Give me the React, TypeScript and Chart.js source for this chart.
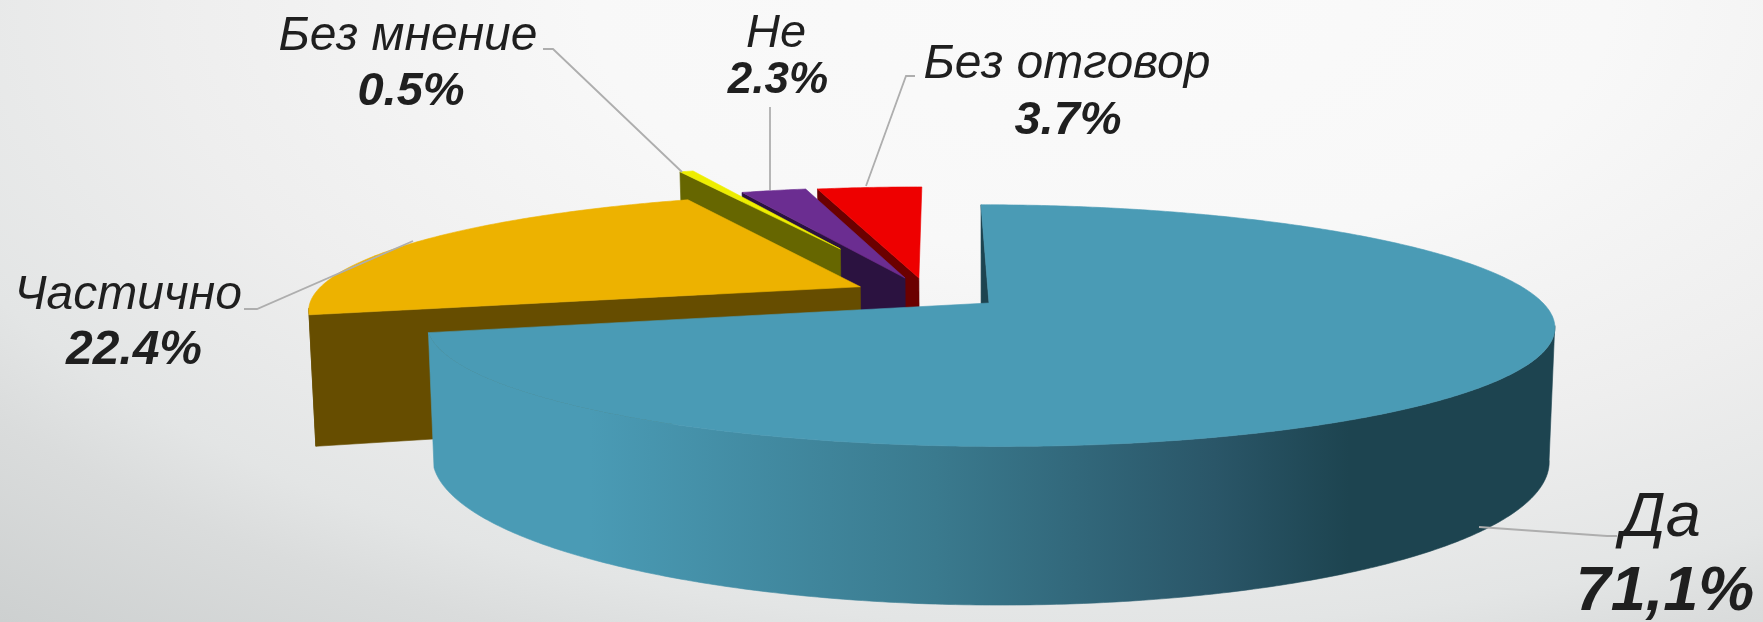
import React, { useEffect, useRef } from "react";
import { Chart, registerables } from "chart.js";

Chart.register(...registerables);

const categories = ["Да", "Частично", "Без мнение", "Не", "Без отговор"];
const values = [71.1, 22.4, 0.5, 2.3, 3.7];
const valueLabels = ["71,1%", "22.4%", "0.5%", "2.3%", "3.7%"];

const topColors = ["#4a9bb5", "#edb200", "#eeee00", "#6b2d91", "#ee0000"];
const wallColors = ["#1d4450", "#664d00", "#666600", "#2b1240", "#6b0000"];
const explodeU = [0, -0.236, -0.285, -0.154, -0.128];
const explodeV = [0, -0.143, -0.507, -0.223, -0.223];

const nameX = [1661, 128, 408, 776, 1067];
const valueX = [1665, 134, 411, 778, 1068];
const nameY = [536, 309, 50, 47, 78];
const valueY = [610, 364, 105, 93, 134];
const nameSize = [63, 48, 48, 47, 48];
const valueSize = [63, 48, 47, 44, 47];

const leaders = [
  [[1479, 527], [1607, 536], [1617, 536]],
  [[244, 309], [257, 309], [413, 241]],
  [[543, 49], [553, 49], [682, 172]],
  [[770, 107], [770, 190]],
  [[915, 76], [906, 76], [866, 186]],
];

const W = 1763, H = 622;
const OX = 989, OY = 303, RX = 554, RY = 116.6, SHEAR = 9.5, PERSP = 0.187, DEPTH = 129, NARROW = 0.99;

function project(u: number, v: number, low: boolean): [number, number] {
  const s = 1 / (1 - PERSP * v);
  const f = low ? NARROW : 1;
  return [OX + (RX * u + SHEAR * v) * s * f, OY + (RY * v + (low ? DEPTH : 0)) * s];
}

function poly(ctx: CanvasRenderingContext2D, pts: [number, number][], fill: any) {
  ctx.beginPath();
  pts.forEach((p, i) => (i ? ctx.lineTo(p[0], p[1]) : ctx.moveTo(p[0], p[1])));
  ctx.closePath();
  ctx.fillStyle = fill;
  ctx.strokeStyle = fill;
  ctx.lineWidth = 0.6;
  ctx.fill();
  ctx.stroke();
}

function rim(a0: number, a1: number, ou: number, ov: number, low: boolean) {
  const out: [number, number][] = [];
  const n = Math.max(2, Math.ceil(Math.abs(a1 - a0) / 0.01));
  for (let i = 0; i <= n; i++) {
    const t = a0 + ((a1 - a0) * i) / n;
    out.push(project(ou + Math.cos(t), ov + Math.sin(t), low));
  }
  return out;
}

const pie3d = {
  id: "pie3d",
  beforeDraw(chart: any) {
    const c = chart.ctx;
    c.save();
    c.translate(1100, 0);
    c.scale(1, 0.5);
    const g = c.createRadialGradient(0, 0, 0, 0, 0, 1700);
    g.addColorStop(0, "#fafafa");
    g.addColorStop(0.3, "#f8f8f8");
    g.addColorStop(0.55, "#eeeeee");
    g.addColorStop(0.737, "#e3e5e5");
    g.addColorStop(0.814, "#dadcdc");
    g.addColorStop(0.976, "#cdd0d0");
    g.addColorStop(1, "#cdd0d0");
    c.fillStyle = g;
    c.fillRect(-2000, -100, 4000, 2000);
    c.restore();
  },
  beforeDatasetDraw(chart: any, args: any) {
    const c: CanvasRenderingContext2D = chart.ctx;
    const arcs = args.meta.data;
    for (let i = arcs.length - 1; i >= 0; i--) {
      const { startAngle: a0, endAngle: a1 } = arcs[i];
      const ou = explodeU[i], ov = explodeV[i];
      const apexT = project(ou, ov, false), apexB = project(ou, ov, true);
      const topRim = rim(a0, a1, ou, ov, false);
      const botRim = rim(a0, a1, ou, ov, true);
      const wall = wallColors[i];
      // The leading radial wall is the only radial face turned to the viewer.
      poly(c, [apexT, topRim[0], botRim[0], apexB], wall);
      // Outer wall: only the front part of the rim, between its two side-most points.
      const turn = Math.asin(PERSP);
      const front0 = Math.max(a0, turn);
      const frontEnd = Math.min(a1, Math.PI - turn);
      if (frontEnd > front0) {
        let side: any = wall;
        if (i === 0) {
          const g = c.createLinearGradient(433, 0, 1550, 0);
          g.addColorStop(0, topColors[0]);
          g.addColorStop(0.14, topColors[0]);
          g.addColorStop(0.45, "#3a7a8e");
          g.addColorStop(0.7, "#2a5668");
          g.addColorStop(0.82, wall);
          g.addColorStop(1, wall);
          side = g;
        }
        const t = rim(front0, frontEnd, ou, ov, false);
        const b = rim(front0, frontEnd, ou, ov, true);
        poly(c, [...t, ...b.reverse()], side);
      }
      poly(c, [apexT, ...topRim], topColors[i]);
    }
    return false;
  },
  afterDatasetsDraw(chart: any) {
    const c: CanvasRenderingContext2D = chart.ctx;
    c.strokeStyle = "#aeaeae";
    c.lineWidth = 1.8;
    leaders.forEach((l) => {
      c.beginPath();
      l.forEach((p, i) => (i ? c.lineTo(p[0], p[1]) : c.moveTo(p[0], p[1])));
      c.stroke();
    });
    c.fillStyle = "#1f1f1f";
    c.textAlign = "center";
    c.textBaseline = "alphabetic";
    categories.forEach((name, i) => {
      c.font = `italic ${nameSize[i]}px "Liberation Sans"`;
      c.fillText(name, nameX[i], nameY[i]);
      c.font = `italic bold ${valueSize[i]}px "Liberation Sans"`;
      c.fillText(valueLabels[i], valueX[i], valueY[i]);
    });
  },
};

export default function App() {
  const ref = useRef<HTMLCanvasElement>(null);
  useEffect(() => {
    const chart = new Chart(ref.current as HTMLCanvasElement, {
      type: "pie",
      data: {
        labels: categories,
        datasets: [{ data: values, backgroundColor: topColors, borderWidth: 0 }],
      },
      options: {
        animation: false,
        responsive: false,
        plugins: { legend: { display: false }, tooltip: { enabled: false } },
      },
      plugins: [pie3d],
    } as any);
    return () => chart.destroy();
  }, []);
  return (
    <div style={{ position: "absolute", left: 0, top: 0, width: W, height: H }}>
      <canvas ref={ref} width={W} height={H} style={{ display: "block" }} />
    </div>
  );
}
